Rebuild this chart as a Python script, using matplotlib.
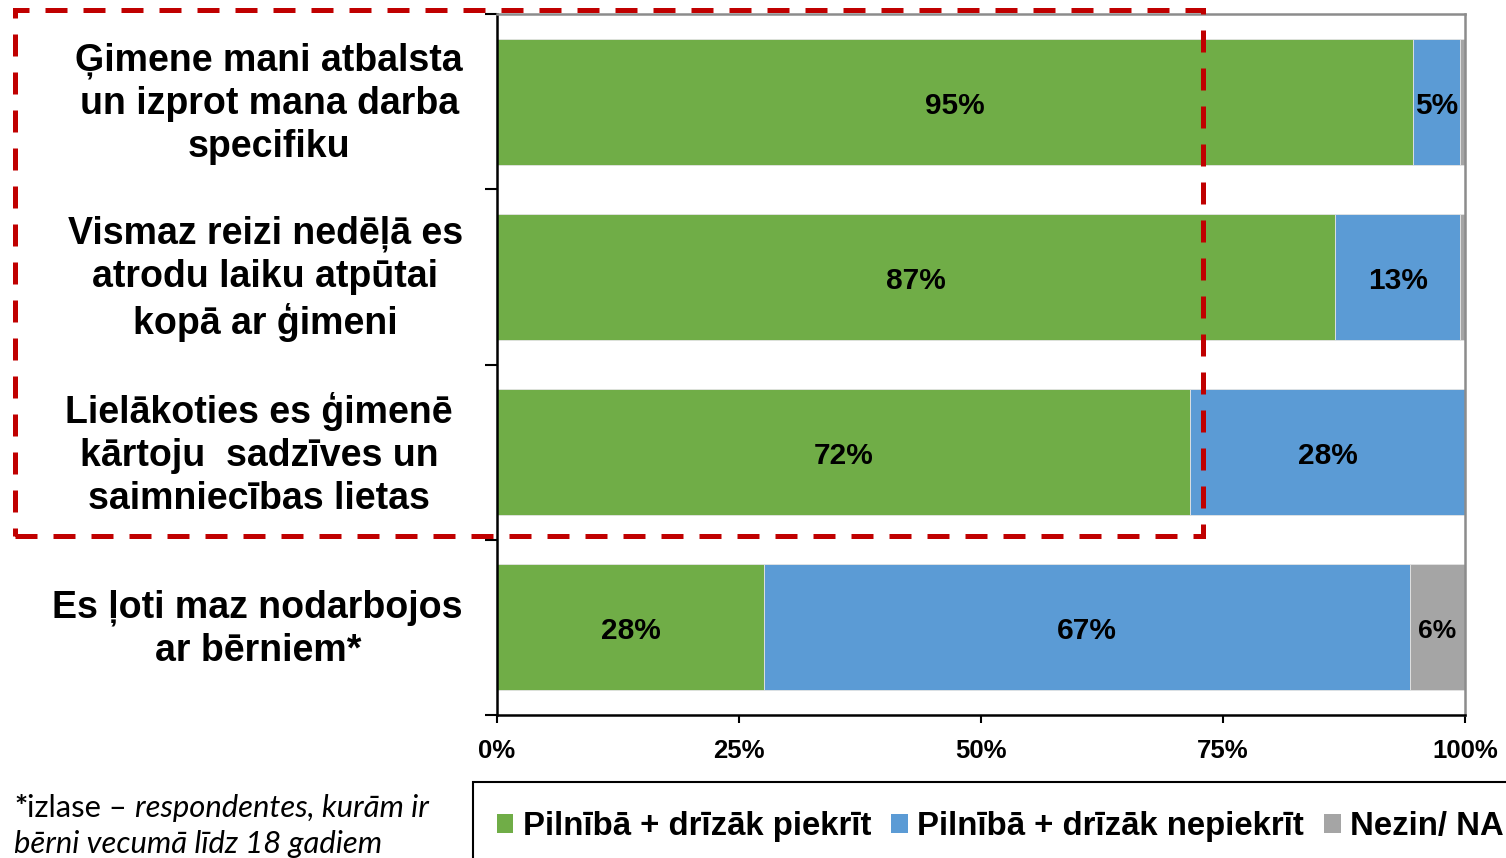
import matplotlib
matplotlib.use("Agg")
import matplotlib.pyplot as plt
from matplotlib.patches import Rectangle, Patch
from matplotlib.transforms import offset_copy
import numpy as np

plt.rcParams['font.family'] = ['Liberation Sans', 'DejaVu Sans']

categories = [
    "Ģimene mani atbalsta\nun izprot mana darba\nspecifiku",
    "Vismaz reizi nedēļā es\natrodu laiku atpūtai\nkopā ar ģimeni",
    "Lielākoties es ģimenē\nkārtoju  sadzīves un\nsaimniecības lietas",
    "Es ļoti maz nodarbojos\nar bērniem*",
]
series_names = ["Pilnībā + drīzāk piekrīt", "Pilnībā + drīzāk nepiekrīt", "Nezin/ NA"]
agree = [94.6, 86.6, 71.6, 27.6]
disagree = [4.9, 12.9, 28.4, 66.7]
dont_know = [0.5, 0.5, 0.0, 5.7]
show_label = [[True, True, True, True], [True, True, True, True], [False, False, False, True]]
xticks = [0, 25, 50, 75, 100]
xtick_labels = ["0%", "25%", "50%", "75%", "100%"]

colors = ["#70AD47", "#5B9BD5", "#A5A5A5"]
label_sizes = [21.5, 21.5, 19]
cat_label_shift = [0, 0, -10, 0]  # pixel shift of category label blocks

W, H = 1506, 858
fig = plt.figure(figsize=(W / 100, H / 100), dpi=100)
ax = fig.add_axes([497 / W, 1 - 715 / H, (1465 - 497) / W, (715 - 14) / H])

y = np.arange(len(categories))
left = np.zeros(len(categories))
label_tr = offset_copy(ax.transData, fig=fig, x=0, y=-4, units="dots")
for i, vals in enumerate([agree, disagree, dont_know]):
    vals = np.array(vals)
    ax.barh(y, vals, left=left, height=0.72, color=colors[i],
            edgecolor="#E4E4E4", linewidth=0.6, label=series_names[i], zorder=2)
    for j, v in enumerate(vals):
        if show_label[i][j] and v > 0:
            ax.text(left[j] + v / 2, y[j], f"{int(v + 0.5)}%", ha="center", va="center",
                    fontsize=label_sizes[i], fontweight="bold", color="black", zorder=3,
                    transform=label_tr)
    left += vals

ax.set_xlim(0, 100)
ax.set_ylim(len(categories) - 0.5, -0.5)
ax.set_xticks(xticks)
ax.set_xticklabels(xtick_labels, fontsize=18.5, fontweight="bold")
ax.set_yticks(np.arange(len(categories) + 1) - 0.5)
ax.set_yticklabels([])
ax.tick_params(axis="y", direction="out", length=9, width=1.5, color="black")
ax.tick_params(axis="x", direction="out", length=6, width=1.5, color="black", pad=11)

for s in ["left", "bottom"]:
    ax.spines[s].set_color("black")
    ax.spines[s].set_linewidth(1.8)
for s in ["top", "right"]:
    ax.spines[s].set_color("#8C8C8C")
    ax.spines[s].set_linewidth(1.8)

for j, cat in enumerate(categories):
    cat_tr = offset_copy(ax.get_yaxis_transform(), fig=fig, x=cat_label_shift[j], y=-2,
                         units="dots")
    ax.text(-34 / 968, y[j], cat, transform=cat_tr,
            ha="right", va="center", multialignment="center",
            fontsize=27, fontweight="bold", linespacing=1.25)

# red dashed highlight rectangle
rect = Rectangle((14.5 / W, 1 - 536 / H), (1203 - 14.5) / W, (536 - 9.5) / H,
                 transform=fig.transFigure, fill=False, edgecolor="#C00000",
                 linewidth=3.6, linestyle=(0, (4.4, 3.2)), zorder=10)
fig.add_artist(rect)

# legend box
box = Rectangle((473 / W, 1 - 900 / H), (1560 - 473) / W, (900 - 782) / H,
                transform=fig.transFigure, fill=False, edgecolor="black", linewidth=1.5)
fig.add_artist(box)
handles = [Patch(facecolor=c, edgecolor="none") for c in colors]
fig.legend(handles, series_names, loc="center left", bbox_to_anchor=(497 / W, 1 - 827 / H),
           ncol=3, frameon=False, prop={"size": 23.7, "weight": "bold"},
           handlelength=0.5, handleheight=0.5, handletextpad=0.28, columnspacing=0.62,
           borderaxespad=0, borderpad=0)

# footnote
fs = 22.3
t1 = fig.text(14 / W, 1 - 817 / H, "*", fontsize=fs, fontweight="bold",
              family=["Lato", "DejaVu Sans"], va="baseline")
t2 = fig.text(0, 0, "izlase – ", fontsize=fs, family=["Lato", "DejaVu Sans"], va="baseline")
t3 = fig.text(0, 0, "respondentes, kurām ir", fontsize=fs, style="italic",
              family=["Lato", "DejaVu Sans"], va="baseline")
fig.text(14 / W, 1 - 853 / H, "bērni vecumā līdz 18 gadiem", fontsize=fs, style="italic",
         family=["Lato", "DejaVu Sans"], va="baseline")

fig.canvas.draw()
r = fig.canvas.get_renderer()
x = t1.get_window_extent(r).x1
t2.set_position((x / W, 1 - 817 / H))
fig.canvas.draw()
x = t2.get_window_extent(r).x1
t3.set_position((x / W, 1 - 817 / H))

fig.savefig("out.png", dpi=100)
